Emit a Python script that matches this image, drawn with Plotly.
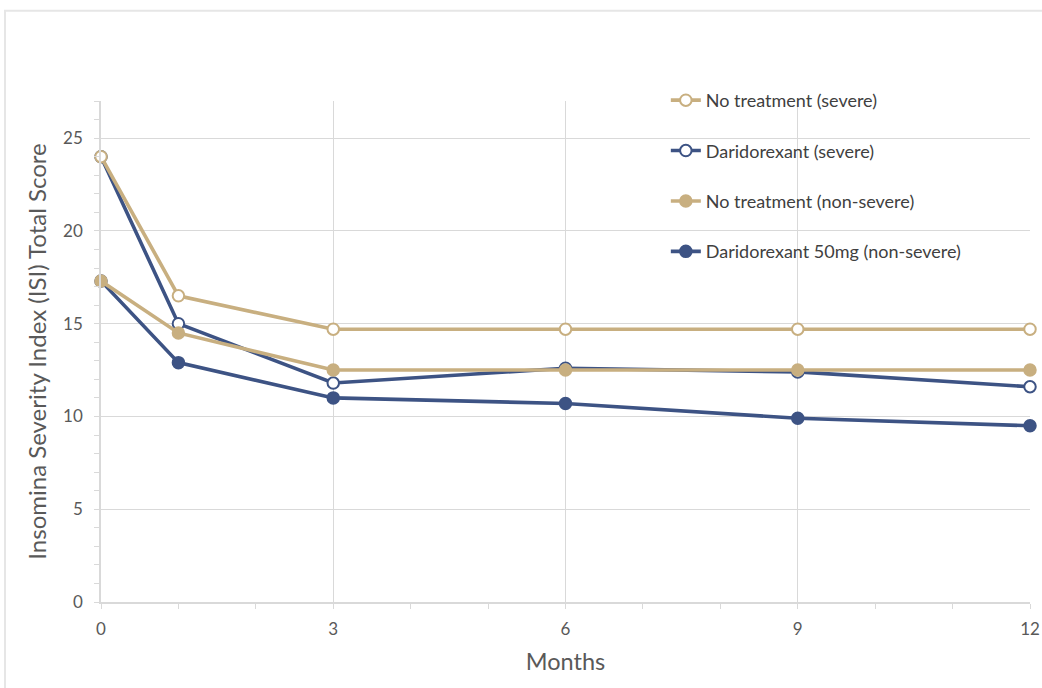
import plotly.graph_objects as go

months = [0, 1, 3, 6, 9, 12]
nt_severe = [24.0, 16.5, 14.7, 14.7, 14.7, 14.7]
dari_severe = [24.0, 15.0, 11.8, 12.6, 12.4, 11.6]
nt_nonsevere = [17.3, 14.5, 12.5, 12.5, 12.5, 12.5]
dari_nonsevere = [17.3, 12.9, 11.0, 10.7, 9.9, 9.5]
names = ["No treatment (severe)", "Daridorexant (severe)",
         "No treatment (non-severe)", "Daridorexant 50mg (non-severe)"]

TAN = "#C8AF80"
BLUE = "#3D5384"
GRID = "#D9D9D9"
TXT = "#595959"
FONT = "Lato"

series = [
    (nt_severe, TAN, False, names[0], "a", 1),
    (dari_severe, BLUE, False, names[1], "b", 2),
    (nt_nonsevere, TAN, True, names[2], "c", 3),
    (dari_nonsevere, BLUE, True, names[3], "d", 4),
]
traces = {}
for vals, col, filled, nm, grp, rank in series:
    traces[nm] = go.Scatter(
        x=months, y=vals, mode="lines+markers", name=nm,
        legendgroup=grp, legendrank=rank,
        line=dict(color=col, width=3.6),
        marker=dict(size=11.5, color=col if filled else "white",
                    line=dict(color=col, width=2)),
        cliponaxis=False,
    )

fig = go.Figure()
for nm in [names[1], names[3], names[0], names[2]]:
    fig.add_trace(traces[nm])

fig.update_layout(
    width=1042, height=688,
    margin=dict(l=101, r=12, t=101, b=86, autoexpand=False),
    paper_bgcolor="white", plot_bgcolor="white",
    font=dict(family=FONT, color=TXT, size=17),
    showlegend=True,
    legend=dict(x=0.608, y=1.038, xanchor="left", yanchor="top",
                bgcolor="rgba(0,0,0,0)", tracegroupgap=24,
                font=dict(size=18, color="#404040", family=FONT),
                itemwidth=30),
    shapes=[dict(type="rect", xref="paper", yref="paper",
                 x0=-0.1033, x1=1.05, y0=-0.3, y1=1.18,
                 line=dict(color="#E6E6E6", width=2))],
)
fig.update_xaxes(
    range=[0, 12], tickvals=[0, 3, 6, 9, 12], showgrid=True, gridcolor=GRID,
    gridwidth=1, showline=True, linecolor=GRID, linewidth=1.5,
    ticks="outside", ticklen=5, tickcolor=GRID, zeroline=False,
    tickfont=dict(size=17, color=TXT), ticklabelstandoff=6,
    minor=dict(dtick=1, ticks="outside", ticklen=5, tickcolor=GRID, showgrid=False),
    title=dict(text="Months", font=dict(size=23.5, color=TXT), standoff=15),
)
fig.update_yaxes(
    range=[0, 27], tickvals=[0, 5, 10, 15, 20, 25], showgrid=True, gridcolor=GRID,
    gridwidth=1, showline=True, linecolor=GRID, linewidth=1.5,
    ticks="outside", ticklen=5, tickcolor=GRID, zeroline=False,
    tickfont=dict(size=17, color=TXT), ticklabelstandoff=8,
    minor=dict(dtick=1, ticks="outside", ticklen=5, tickcolor=GRID, showgrid=False),
    title=dict(text="Insomina Severity Index (ISI) Total Score",
               font=dict(size=24, color=TXT), standoff=10),
)
fig.write_html("out.html",
               config={"displayModeBar": False},
               post_script="document.body.style.margin='0';document.body.style.overflow='hidden';")
